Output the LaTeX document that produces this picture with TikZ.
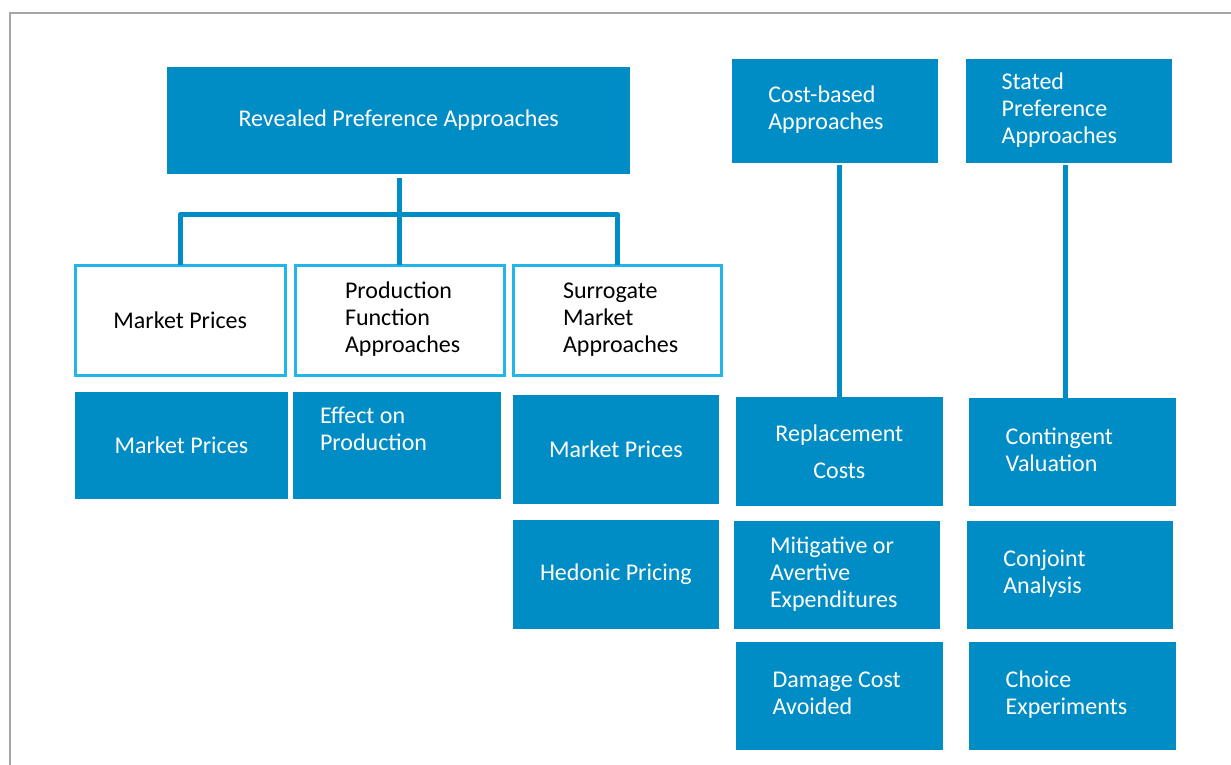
\documentclass[tikz,border=0pt]{standalone}
\usepackage{fontspec}
\setmainfont{Carlito}
\definecolor{boxblue}{RGB}{0,140,196}
\definecolor{outlinecyan}{RGB}{34,182,232}
\definecolor{framegray}{RGB}{166,166,166}
\newcommand\padtext[3]{\makebox[#1pt][l]{\hspace*{#2pt}\begin{tabular}{@{}l@{}}#3\end{tabular}}}
\tikzset{
  basebox/.style={rectangle, inner sep=0pt, outer sep=0pt, anchor=north west,
    font=\fontsize{24}{27}\selectfont, align=center},
  bluebox/.style={basebox, fill=boxblue, text=white},
  linebox/.style={basebox, draw=outlinecyan, line width=3pt, fill=white, text=black},
  conn/.style={draw=boxblue, line width=5pt, line join=round},
}
\begin{document}
\begin{tikzpicture}[x=1pt,y=-1pt]
\useasboundingbox (0,0) rectangle (1231,765);
\draw[framegray, line width=2pt] (10,766) -- (10,13) -- (1232,13);

% top row
\node[bluebox, minimum width=462.7pt, minimum height=107.6pt] (rp) at (167.3,66.7) {Revealed Preference Approaches};
\node[bluebox, minimum width=206pt, minimum height=103.4pt] (cb) at (732.3,59.3) {\padtext{206}{36}{Cost-based\\Approaches}};
\node[bluebox, minimum width=206pt, minimum height=103.4pt] (sp) at (965.7,59.3) {\padtext{206}{36}{Stated\\Preference\\Approaches}};

% outlined row
\node[linebox, minimum width=209.5pt, minimum height=110.7pt] (mp1) at (75.5,265) {Market Prices};
\node[linebox, minimum width=209pt, minimum height=110.7pt] (pf) at (295,265) {\padtext{209}{50}{Production\\Function\\Approaches}};
\node[linebox, minimum width=208.5pt, minimum height=110.7pt] (sm) at (513,265) {\padtext{208.5}{50}{Surrogate\\Market\\Approaches}};

% blue rows, left part
\node[bluebox, minimum width=212.7pt, minimum height=107.6pt] (mp2) at (75,391.7) {Market Prices};
\node[bluebox, minimum width=207.4pt, minimum height=107.6pt] (ep) at (293.3,391.7) {\padtext{207.4}{26.7}{Effect on\\Production\\[27pt]}};
\node[bluebox, minimum width=206.3pt, minimum height=109pt] (smp) at (512.7,395) {Market Prices};
\node[bluebox, minimum width=206.3pt, minimum height=109.3pt] (hp) at (512.7,520) {Hedonic Pricing};

% cost-based column
\node[bluebox, minimum width=206.7pt, minimum height=108.7pt] (rc) at (736,397.3) {Replacement\\[10pt]Costs};
\node[bluebox, minimum width=206pt, minimum height=108.6pt] (ma) at (734,520.7) {\padtext{206}{36}{Mitigative or\\Avertive\\Expenditures}};
\node[bluebox, minimum width=206.7pt, minimum height=108.3pt] (dc) at (736,641.7) {\padtext{206.7}{36.7}{Damage Cost\\Avoided}};

% stated preference column
\node[bluebox, minimum width=206.4pt, minimum height=107.7pt] (cv) at (969.3,398.3) {\padtext{206.4}{36.4}{Contingent\\Valuation}};
\node[bluebox, minimum width=206.6pt, minimum height=108.6pt] (ca) at (966.7,520.7) {\padtext{206.6}{36.6}{Conjoint\\Analysis}};
\node[bluebox, minimum width=206.4pt, minimum height=108.3pt] (ce) at (969.3,641.7) {\padtext{206.4}{36.4}{Choice\\Experiments}};

% connectors
\coordinate (bar) at (399.5,214.5);
\draw[conn] ([yshift=-4pt]rp.south -| bar) -- (bar);
\draw[conn] (mp1.north) |- (bar) -| (sm.north);
\draw[conn] (bar) -- (pf.north);
\coordinate (cbtop) at (839,165);
\draw[conn] (cbtop) -- (cbtop |- rc.north);
\coordinate (sptop) at (1065.5,165);
\draw[conn] (sptop) -- (sptop |- cv.north);
\end{tikzpicture}
\end{document}
